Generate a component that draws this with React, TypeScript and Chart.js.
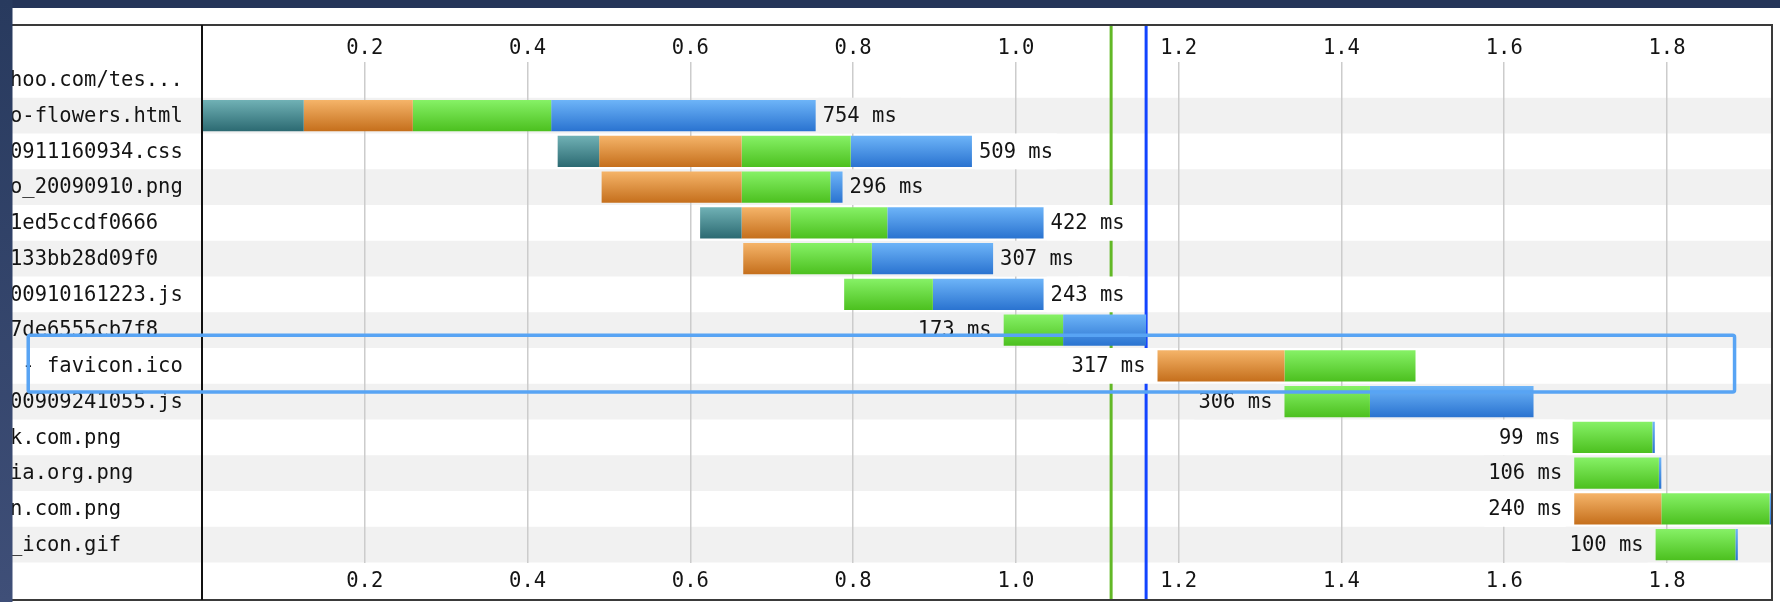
import React, { useEffect, useRef } from "react";
import { Chart, registerables } from "chart.js";

Chart.register(...registerables);

// ---------- data ----------
const ROW_LABELS = [
  "hoo.com/tes...",
  "o-flowers.html",
  "0911160934.css",
  "o_20090910.png",
  "1ed5ccdf0666",
  "133bb28d09f0",
  "00910161223.js",
  "7de6555cb7f8",
  " - favicon.ico",
  "00909241055.js",
  "k.com.png",
  "ia.org.png",
  "n.com.png",
  "_icon.gif",
];

const DURATIONS_MS: (number | null)[] = [null, 754, 509, 296, 422, 307, 243, 173, 317, 306, 99, 106, 240, 100];

type Seg = [number, number] | null;
const DNS: Seg[] = [null, [0, 0.125], [0.437, 0.488], null, [0.612, 0.663], null, null, null, null, null, null, null, null, null];
const CONNECT: Seg[] = [null, [0.125, 0.259], [0.488, 0.663], [0.491, 0.663], [0.663, 0.723], [0.665, 0.723], null, null, [1.174, 1.33], null, null, null, [1.686, 1.793], null];
const TTFB: Seg[] = [null, [0.259, 0.429], [0.663, 0.797], [0.663, 0.772], [0.723, 0.842], [0.723, 0.823], [0.789, 0.898], [0.985, 1.058], [1.33, 1.491], [1.33, 1.435], [1.684, 1.782], [1.686, 1.79], [1.793, 1.926], [1.786, 1.884]];
const DOWNLOAD: Seg[] = [null, [0.429, 0.754], [0.797, 0.946], [0.772, 0.787], [0.842, 1.034], [0.823, 0.972], [0.898, 1.034], [1.058, 1.16], null, [1.435, 1.636], [1.782, 1.785], [1.79, 1.793], [1.926, 1.929], [1.884, 1.887]];

const X_TICKS = [0.2, 0.4, 0.6, 0.8, 1.0, 1.2, 1.4, 1.6, 1.8];
const X_MAX = 1.929;
const MARKER_VALUES = [1.117, 1.16];
const MARKER_COLORS = ["#62b826", "#1244ff"];
const LEFT_LABEL_AFTER = 0.9; // bars starting later than this get their label on the left
const HIGHLIGHT_ROWS = [7.14, 8.73];
const HIGHLIGHT_X = [-0.2135, 1.883];

// ---------- style ----------
const FONT = '20.5px "DejaVu Sans Mono", monospace';
const TEXT = "#141414";
const ROW_ALT = "#f1f1f1";
const BAR_FRACTION = 0.87;
const FRAME_TOP_GAP = 37;
const FRAME_BOTTOM_GAP = 37.5;

function barGradient(c: any, top: string, bottom: string) {
  const chart = c.chart;
  const ca = chart.chartArea;
  const ys = chart.scales && chart.scales.y;
  if (!ca || !ys || c.dataIndex == null) return bottom;
  const rowH = ca.height / ROW_LABELS.length;
  const h = rowH * BAR_FRACTION;
  const cy = ys.getPixelForValue(c.dataIndex);
  if (!isFinite(cy) || !isFinite(h)) return bottom;
  const g = chart.ctx.createLinearGradient(0, cy - h / 2, 0, cy + h / 2);
  g.addColorStop(0, top);
  g.addColorStop(1, bottom);
  return g;
}

const mk = (label: string, data: Seg[], top: string, bottom: string) => ({
  label,
  data: data as any,
  grouped: false,
  barPercentage: BAR_FRACTION,
  categoryPercentage: 1,
  borderWidth: 0,
  backgroundColor: (c: any) => barGradient(c, top, bottom),
});

function rowSpan(i: number): [number, number] | null {
  const segs = [DNS[i], CONNECT[i], TTFB[i], DOWNLOAD[i]].filter(Boolean) as [number, number][];
  if (!segs.length) return null;
  return [Math.min(...segs.map((s) => s[0])), Math.max(...segs.map((s) => s[1]))];
}

const waterfallPlugin = {
  id: "waterfall",
  beforeDraw(chart: any) {
    const { ctx, chartArea: ca, scales } = chart;
    ctx.save();
    ctx.fillStyle = "#ffffff";
    ctx.fillRect(0, 0, chart.width, chart.height);
    const n = ROW_LABELS.length;
    const rowH = ca.height / n;
    for (let i = 0; i < n; i++) {
      if (i % 2 === 1) {
        const cy = scales.y.getPixelForValue(i);
        ctx.fillStyle = ROW_ALT;
        ctx.fillRect(0, cy - rowH / 2, ca.right, rowH);
      }
    }
    ctx.restore();
  },
  beforeDatasetsDraw(chart: any) {
    const { ctx, chartArea: ca, scales } = chart;
    ctx.save();
    MARKER_VALUES.forEach((v, k) => {
      const x = scales.x.getPixelForValue(v);
      ctx.strokeStyle = MARKER_COLORS[k];
      ctx.lineWidth = 3;
      ctx.beginPath();
      ctx.moveTo(x, ca.top - FRAME_TOP_GAP);
      ctx.lineTo(x, ca.bottom + FRAME_BOTTOM_GAP);
      ctx.stroke();
    });
    ctx.restore();
  },
  afterDatasetsDraw(chart: any) {
    const { ctx, chartArea: ca, scales } = chart;
    const n = ROW_LABELS.length;
    const rowH = ca.height / n;
    ctx.save();
    ctx.font = FONT;
    ctx.textBaseline = "middle";
    for (let i = 0; i < n; i++) {
      const d = DURATIONS_MS[i];
      const span = rowSpan(i);
      if (d == null || !span) continue;
      const text = `${d} ms`;
      const w = ctx.measureText(text).width;
      const cy = scales.y.getPixelForValue(i);
      const left = span[0] > LEFT_LABEL_AFTER;
      const x0 = left ? scales.x.getPixelForValue(span[0]) - 12 - w : scales.x.getPixelForValue(span[1]) + 7;
      ctx.fillStyle = i % 2 === 1 ? ROW_ALT : "#ffffff";
      ctx.fillRect(x0 - 4, cy - rowH / 2, w + 8, rowH);
      ctx.fillStyle = TEXT;
      ctx.textAlign = "left";
      ctx.fillText(text, x0, cy + 1);
    }
    ctx.restore();
  },
  afterDraw(chart: any) {
    const { ctx, chartArea: ca, scales } = chart;
    const W = chart.width;
    const H = chart.height;
    const frameTop = ca.top - FRAME_TOP_GAP;
    const frameBottom = ca.bottom + FRAME_BOTTOM_GAP;
    ctx.save();
    // frame
    ctx.strokeStyle = "#3a3a3a";
    ctx.lineWidth = 2;
    ctx.beginPath();
    ctx.moveTo(0, frameTop);
    ctx.lineTo(ca.right, frameTop);
    ctx.lineTo(ca.right, frameBottom);
    ctx.lineTo(0, frameBottom);
    ctx.stroke();
    // axis line
    ctx.strokeStyle = "#111111";
    ctx.beginPath();
    ctx.moveTo(ca.left, frameTop);
    ctx.lineTo(ca.left, frameBottom);
    ctx.stroke();
    // row labels
    ctx.font = FONT;
    ctx.fillStyle = TEXT;
    ctx.textBaseline = "middle";
    ctx.textAlign = "left";
    ROW_LABELS.forEach((lab, i) => {
      const cy = scales.y.getPixelForValue(i);
      ctx.fillText(lab, 10, cy + 1);
    });
    // tick labels top & bottom
    ctx.textAlign = "center";
    X_TICKS.forEach((t) => {
      const x = scales.x.getPixelForValue(t);
      ctx.fillText(t.toFixed(1), x, ca.top - 13.5);
      ctx.fillText(t.toFixed(1), x, ca.bottom + 19);
    });
    // highlight box
    const bx0 = scales.x.getPixelForValue(HIGHLIGHT_X[0]);
    const bx1 = scales.x.getPixelForValue(HIGHLIGHT_X[1]);
    const by0 = scales.y.getPixelForValue(HIGHLIGHT_ROWS[0]);
    const by1 = scales.y.getPixelForValue(HIGHLIGHT_ROWS[1]);
    ctx.strokeStyle = "#58a4f4";
    ctx.lineWidth = 3.5;
    ctx.beginPath();
    if ((ctx as any).roundRect) (ctx as any).roundRect(bx0, by0, bx1 - bx0, by1 - by0, 2);
    else ctx.rect(bx0, by0, bx1 - bx0, by1 - by0);
    ctx.stroke();
    // dark surround
    ctx.fillStyle = "#253559";
    ctx.fillRect(0, 0, W, 8);
    const lg = ctx.createLinearGradient(0, 0, 0, H);
    lg.addColorStop(0, "#283a5e");
    lg.addColorStop(1, "#3f4f78");
    ctx.fillStyle = lg;
    ctx.fillRect(0, 0, 12.5, H);
    ctx.restore();
  },
};

export default function App() {
  const ref = useRef<HTMLCanvasElement>(null);
  useEffect(() => {
    document.body.style.margin = "0";
    const canvas = ref.current;
    if (!canvas) return;
    const chart = new Chart(canvas, {
      type: "bar",
      data: {
        labels: ROW_LABELS,
        datasets: [
          mk("DNS", DNS, "#70b1b5", "#2c6a72"),
          mk("Connect", CONNECT, "#f5b469", "#c56f1c"),
          mk("TTFB", TTFB, "#86f166", "#4cc01f"),
          mk("Download", DOWNLOAD, "#6db4f8", "#2a73d0"),
        ] as any,
      },
      options: {
        indexAxis: "y",
        animation: false,
        responsive: false,
        maintainAspectRatio: false,
        layout: { padding: { left: 202, right: 8, top: 62, bottom: 39.5 } },
        scales: {
          x: {
            type: "linear",
            min: 0,
            max: X_MAX,
            ticks: { display: false, stepSize: 0.2, includeBounds: false },
            grid: { color: "#cccccc", lineWidth: 1.5, drawTicks: false },
            border: { display: false },
          },
          y: { type: "category", display: false, offset: true },
        },
        plugins: { legend: { display: false }, tooltip: { enabled: false } },
      } as any,
      plugins: [waterfallPlugin],
    });
    return () => chart.destroy();
  }, []);
  return (
    <div style={{ position: "absolute", left: 0, top: 0, width: 1780, height: 602 }}>
      <canvas ref={ref} width={1780} height={602} style={{ display: "block", width: 1780, height: 602 }} />
    </div>
  );
}
